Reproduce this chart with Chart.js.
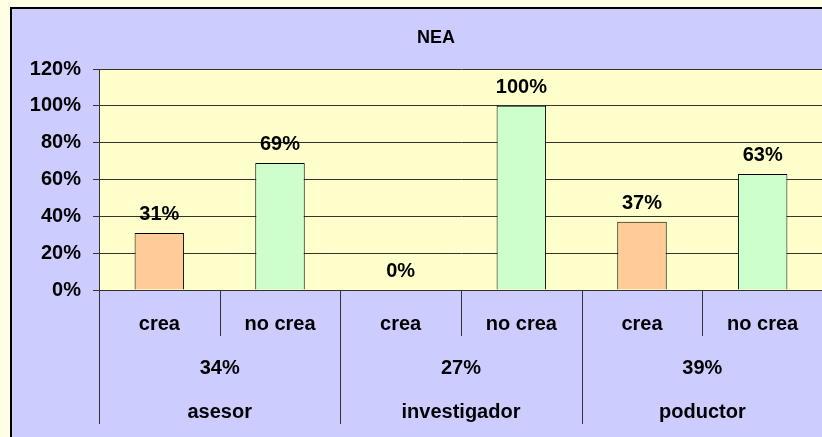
<!DOCTYPE html>
<html>
<head>
<meta charset="utf-8">
<script src="https://cdn.jsdelivr.net/npm/chart.js@4.4.1/dist/chart.umd.min.js"></script>
<style>
  html, body { margin: 0; padding: 0; background: #FFFFE3; overflow: hidden; }
  #frame {
    position: absolute; left: 10px; top: 7px; width: 900px; height: 500px;
    background: #CCCCFF; border-left: 2px solid #000; border-top: 2px solid #000;
  }
  #box { position: absolute; left: 0; top: 0; width: 811px; height: 430px; }
</style>
</head>
<body>
<div id="frame"><div id="box"><canvas id="neaChart"></canvas></div></div>
<script>
const chartTitle = 'NEA';
const categories = ['crea', 'no crea', 'crea', 'no crea', 'crea', 'no crea'];
const shares = [0.31, 0.69, 0.00, 1.00, 0.37, 0.63];
const groups = ['asesor', 'investigador', 'poductor'];
const groupShares = ['34%', '27%', '39%'];
const barColors = ['#FFCC99', '#CCFFCC', '#FFCC99', '#CCFFCC', '#FFCC99', '#CCFFCC'];

const pct = v => Math.round(v * 100) + '%';
const boldFont = size => 'bold ' + size + 'px "Liberation Sans", Arial, sans-serif';

const excelLook = {
  id: 'excelLook',
  beforeDraw(chart) {
    const { ctx, chartArea: a } = chart;
    ctx.save();
    ctx.fillStyle = '#FFFFCC';
    ctx.fillRect(a.left, a.top, a.right - a.left, a.bottom - a.top);
    ctx.restore();
  },
  afterDraw(chart) {
    const { ctx, chartArea: a, scales } = chart;
    const x = scales.x;
    const step = x.getPixelForValue(1) - x.getPixelForValue(0);
    ctx.save();

    // title
    ctx.fillStyle = '#000';
    ctx.font = boldFont(18);
    ctx.textAlign = 'center';
    ctx.textBaseline = 'alphabetic';
    ctx.fillText(chartTitle, 424, 34);

    // value labels above bars
    ctx.font = boldFont(20);
    const meta = chart.getDatasetMeta(0);
    meta.data.forEach((bar, i) => {
      ctx.fillText(pct(shares[i]), bar.x, bar.y - 13);
    });

    // separators of the two-level category axis
    ctx.strokeStyle = '#333';
    ctx.lineWidth = 1;
    for (let i = 0; i <= categories.length; i++) {
      const px = Math.round(x.getPixelForValue(i) - step / 2) + 0.5;
      const longLine = i % 2 === 0;
      ctx.beginPath();
      ctx.moveTo(px, a.bottom);
      ctx.lineTo(px, longLine ? a.bottom + 134 : a.bottom + 46);
      ctx.stroke();
    }

    // category labels
    categories.forEach((c, i) => {
      ctx.fillText(c, x.getPixelForValue(i), a.bottom + 40);
    });
    // group labels
    groups.forEach((g, j) => {
      const cx = (x.getPixelForValue(2 * j) + x.getPixelForValue(2 * j + 1)) / 2;
      ctx.fillText(groupShares[j], cx, a.bottom + 84);
      ctx.fillText(g, cx, a.bottom + 128);
    });
    ctx.restore();
  }
};

new Chart(document.getElementById('neaChart'), {
  type: 'bar',
  data: {
    labels: categories,
    datasets: [{
      label: chartTitle,
      data: shares,
      backgroundColor: barColors,
      borderColor: '#000',
      borderWidth: 1,
      categoryPercentage: 1,
      barPercentage: 0.41
    }]
  },
  options: {
    responsive: true,
    maintainAspectRatio: false,
    animation: false,
    layout: { padding: { top: 60, right: 0, bottom: 0, left: 0 } },
    plugins: {
      legend: { display: false },
      title: { display: false },
      tooltip: { enabled: false }
    },
    scales: {
      x: {
        grid: { display: false },
        border: { display: true, color: '#333', width: 1 },
        ticks: { display: false },
        afterFit(scale) { scale.height = 149; }
      },
      y: {
        min: 0,
        max: 1.2,
        ticks: {
          stepSize: 0.2,
          callback: v => pct(v),
          color: '#000',
          font: { family: '"Liberation Sans", Arial, sans-serif', size: 20, weight: 'bold' },
          padding: 12
        },
        grid: { color: '#333', lineWidth: 1, tickLength: 6, drawTicks: true },
        border: { display: true, color: '#333', width: 1 },
        afterFit(scale) { scale.width = 87; }
      }
    }
  },
  plugins: [excelLook]
});
</script>
</body>
</html>
